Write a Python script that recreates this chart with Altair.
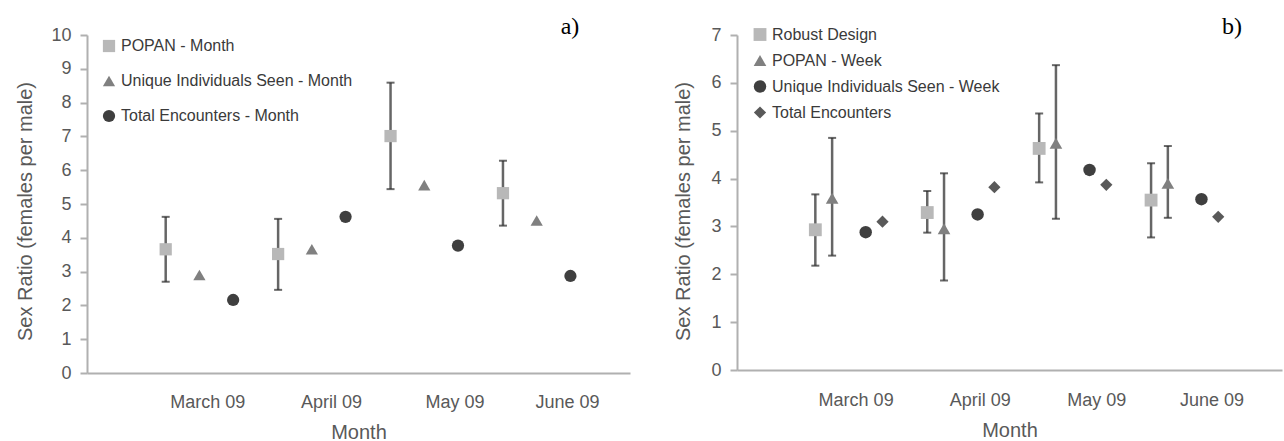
import altair as alt
import pandas as pd

months = ["March 09", "April 09", "May 09", "June 09"]

# ---- panel a) ----
a_series = ["POPAN - Month", "Unique Individuals Seen - Month", "Total Encounters - Month"]
a_offsets = [-0.3, 0.0, 0.3]
a_popan = [3.66, 3.52, 7.01, 5.32]
a_popan_lo = [2.70, 2.46, 5.44, 4.36]
a_popan_hi = [4.62, 4.56, 8.59, 6.28]
a_unique = [2.90, 3.66, 5.56, 4.51]
a_total = [2.16, 4.62, 3.77, 2.87]
a_label_pos = [1.07, 2.17, 3.27, 4.27]
a_xmax = 4.83
a_colors = ["#b8b8b8", "#808080", "#3f3f3f"]
a_shapes = ["square", "triangle-up", "circle"]
a_sizes = [150, 150, 200]

# ---- panel b) ----
b_series = ["Robust Design", "POPAN - Week", "Unique Individuals Seen - Week", "Total Encounters"]
b_offsets = [-0.3, -0.15, 0.15, 0.3]
b_rd = [2.93, 3.29, 4.63, 3.55]
b_rd_lo = [2.18, 2.87, 3.92, 2.77]
b_rd_hi = [3.67, 3.74, 5.36, 4.32]
b_popan = [3.59, 2.95, 4.74, 3.90]
b_popan_lo = [2.39, 1.87, 3.16, 3.18]
b_popan_hi = [4.85, 4.11, 6.37, 4.68]
b_unique = [2.88, 3.25, 4.18, 3.57]
b_total = [3.10, 3.82, 3.87, 3.20]
b_label_pos = [1.06, 2.17, 3.21, 4.24]
b_xmax = 4.87
b_colors = ["#b8b8b8", "#808080", "#3f3f3f", "#595959"]
b_shapes = ["square", "triangle-up", "circle", "diamond"]
b_sizes = [165, 150, 180, 130]

FONT = "Liberation Sans"


def points_df(series, offsets, values):
    rows = []
    for s, off, vals in zip(series, offsets, values):
        for m, v in enumerate(vals):
            rows.append({"series": s, "x": m + 1 + off, "value": v})
    return pd.DataFrame(rows)


def err_df(series, offsets, los, his):
    rows = []
    for s, off, lo, hi in zip(series, offsets, los, his):
        for m in range(len(lo)):
            rows.append({"series": s, "x": m + 1 + off, "lo": lo[m], "hi": hi[m]})
    return pd.DataFrame(rows)


def label_expr(pos):
    arr = "[" + ",".join("'%s'" % m for m in months) + "]"
    parr = "[" + ",".join(str(p) for p in pos) + "]"
    return "%s[indexof(%s, datum.value)]" % (arr, parr)


def panel(pts, errs, series, colors, shapes, sizes, label_pos, xmax, ymax, ytitle_x,
          legend_x, legend_y, row_pad, tag, tag_x, width, height, xlabel_pad):
    xs = alt.Scale(domain=[0, xmax], nice=False, zero=False)
    ys = alt.Scale(domain=[0, ymax], nice=False)
    xaxis = alt.Axis(values=label_pos, labelExpr=label_expr(label_pos), ticks=False,
                     tickCount=20,
                     grid=False, domainColor="#b0b0b0", domainWidth=2,
                     labelFont=FONT, labelFontSize=18, labelColor="#595959",
                     labelPadding=xlabel_pad, labelOverlap=False,
                     title="Month", titleFont=FONT,
                     titleFontSize=20, titleFontWeight="normal", titleColor="#595959",
                     titlePadding=11)
    yaxis = alt.Axis(values=list(range(0, ymax + 1)), tickCount=40, format="d", tickSize=7,
                     tickColor="#b0b0b0",
                     tickWidth=2, domainColor="#b0b0b0", domainWidth=2, grid=False,
                     labelFont=FONT, labelFontSize=18, labelColor="#595959",
                     labelPadding=9, labelOverlap=False,
                     title="Sex Ratio (females per male)",
                     titleFont=FONT, titleFontSize=20, titleFontWeight="normal",
                     titleColor="#595959", titleX=ytitle_x, titleY=176,
                     titleBaseline="middle", titleAlign="center", titleAngle=270)
    base_e = alt.Chart(errs)
    stems = base_e.mark_rule(color="#666666", strokeWidth=2.5).encode(
        x=alt.X("x:Q", scale=xs, axis=xaxis),
        y=alt.Y("lo:Q", scale=ys, axis=yaxis),
        y2="hi:Q",
    )
    cap_hi = base_e.mark_tick(color="#2b2b2b", orient="horizontal", size=8, thickness=2).encode(
        x=alt.X("x:Q", scale=xs, axis=xaxis), y=alt.Y("hi:Q", scale=ys, axis=yaxis))
    cap_lo = base_e.mark_tick(color="#2b2b2b", orient="horizontal", size=8, thickness=2).encode(
        x=alt.X("x:Q", scale=xs, axis=xaxis), y=alt.Y("lo:Q", scale=ys, axis=yaxis))
    pts_layer = alt.Chart(pts).mark_point(filled=True, opacity=1).encode(
        x=alt.X("x:Q", scale=xs, axis=xaxis),
        y=alt.Y("value:Q", scale=ys, axis=yaxis),
        color=alt.Color("series:N", scale=alt.Scale(domain=series, range=colors),
                        legend=alt.Legend(orient="none", legendX=legend_x, legendY=legend_y,
                                          title=None, padding=0, rowPadding=row_pad,
                                          labelFont=FONT, labelFontSize=16,
                                          labelColor="#3a3a3a", labelOffset=4,
                                          symbolSize=110, symbolStrokeWidth=0,
                                          labelLimit=400)),
        shape=alt.Shape("series:N", scale=alt.Scale(domain=series, range=shapes)),
        size=alt.Size("series:N", scale=alt.Scale(domain=series, range=sizes), legend=None),
    )
    tag_layer = alt.Chart(pd.DataFrame({"tag": [tag]})).mark_text(
        font="Liberation Serif", fontSize=24, color="#000000", baseline="middle"
    ).encode(text="tag:N", x=alt.value(tag_x), y=alt.value(-8))
    return alt.layer(stems, cap_hi, cap_lo, pts_layer, tag_layer).properties(
        width=width, height=height)


left = panel(
    points_df(a_series, a_offsets, [a_popan, a_unique, a_total]),
    err_df(a_series[:1], a_offsets[:1], [a_popan_lo], [a_popan_hi]),
    a_series, a_colors, a_shapes, a_sizes, a_label_pos, a_xmax, 10, -62,
    14, 3, 19, "a)", 483, 543, 338, 20,
)
right = panel(
    points_df(b_series, b_offsets, [b_rd, b_popan, b_unique, b_total]),
    err_df(b_series[:2], b_offsets[:2], [b_rd_lo, b_popan_lo], [b_rd_hi, b_popan_hi]),
    b_series, b_colors, b_shapes, b_sizes, b_label_pos, b_xmax, 7, -54,
    15, -8.5, 10, "b)", 495, 545, 335, 21,
)

chart = alt.hconcat(left, right, spacing=107, bounds="flush").resolve_scale(
    x="independent", y="independent", color="independent", shape="independent",
    size="independent"
).properties(
    padding={"left": 15, "top": 15, "right": 2, "bottom": 2},
    background="white",
).configure_view(stroke=None)

chart.save("out.html", embed_options={"renderer": "svg", "actions": False})
